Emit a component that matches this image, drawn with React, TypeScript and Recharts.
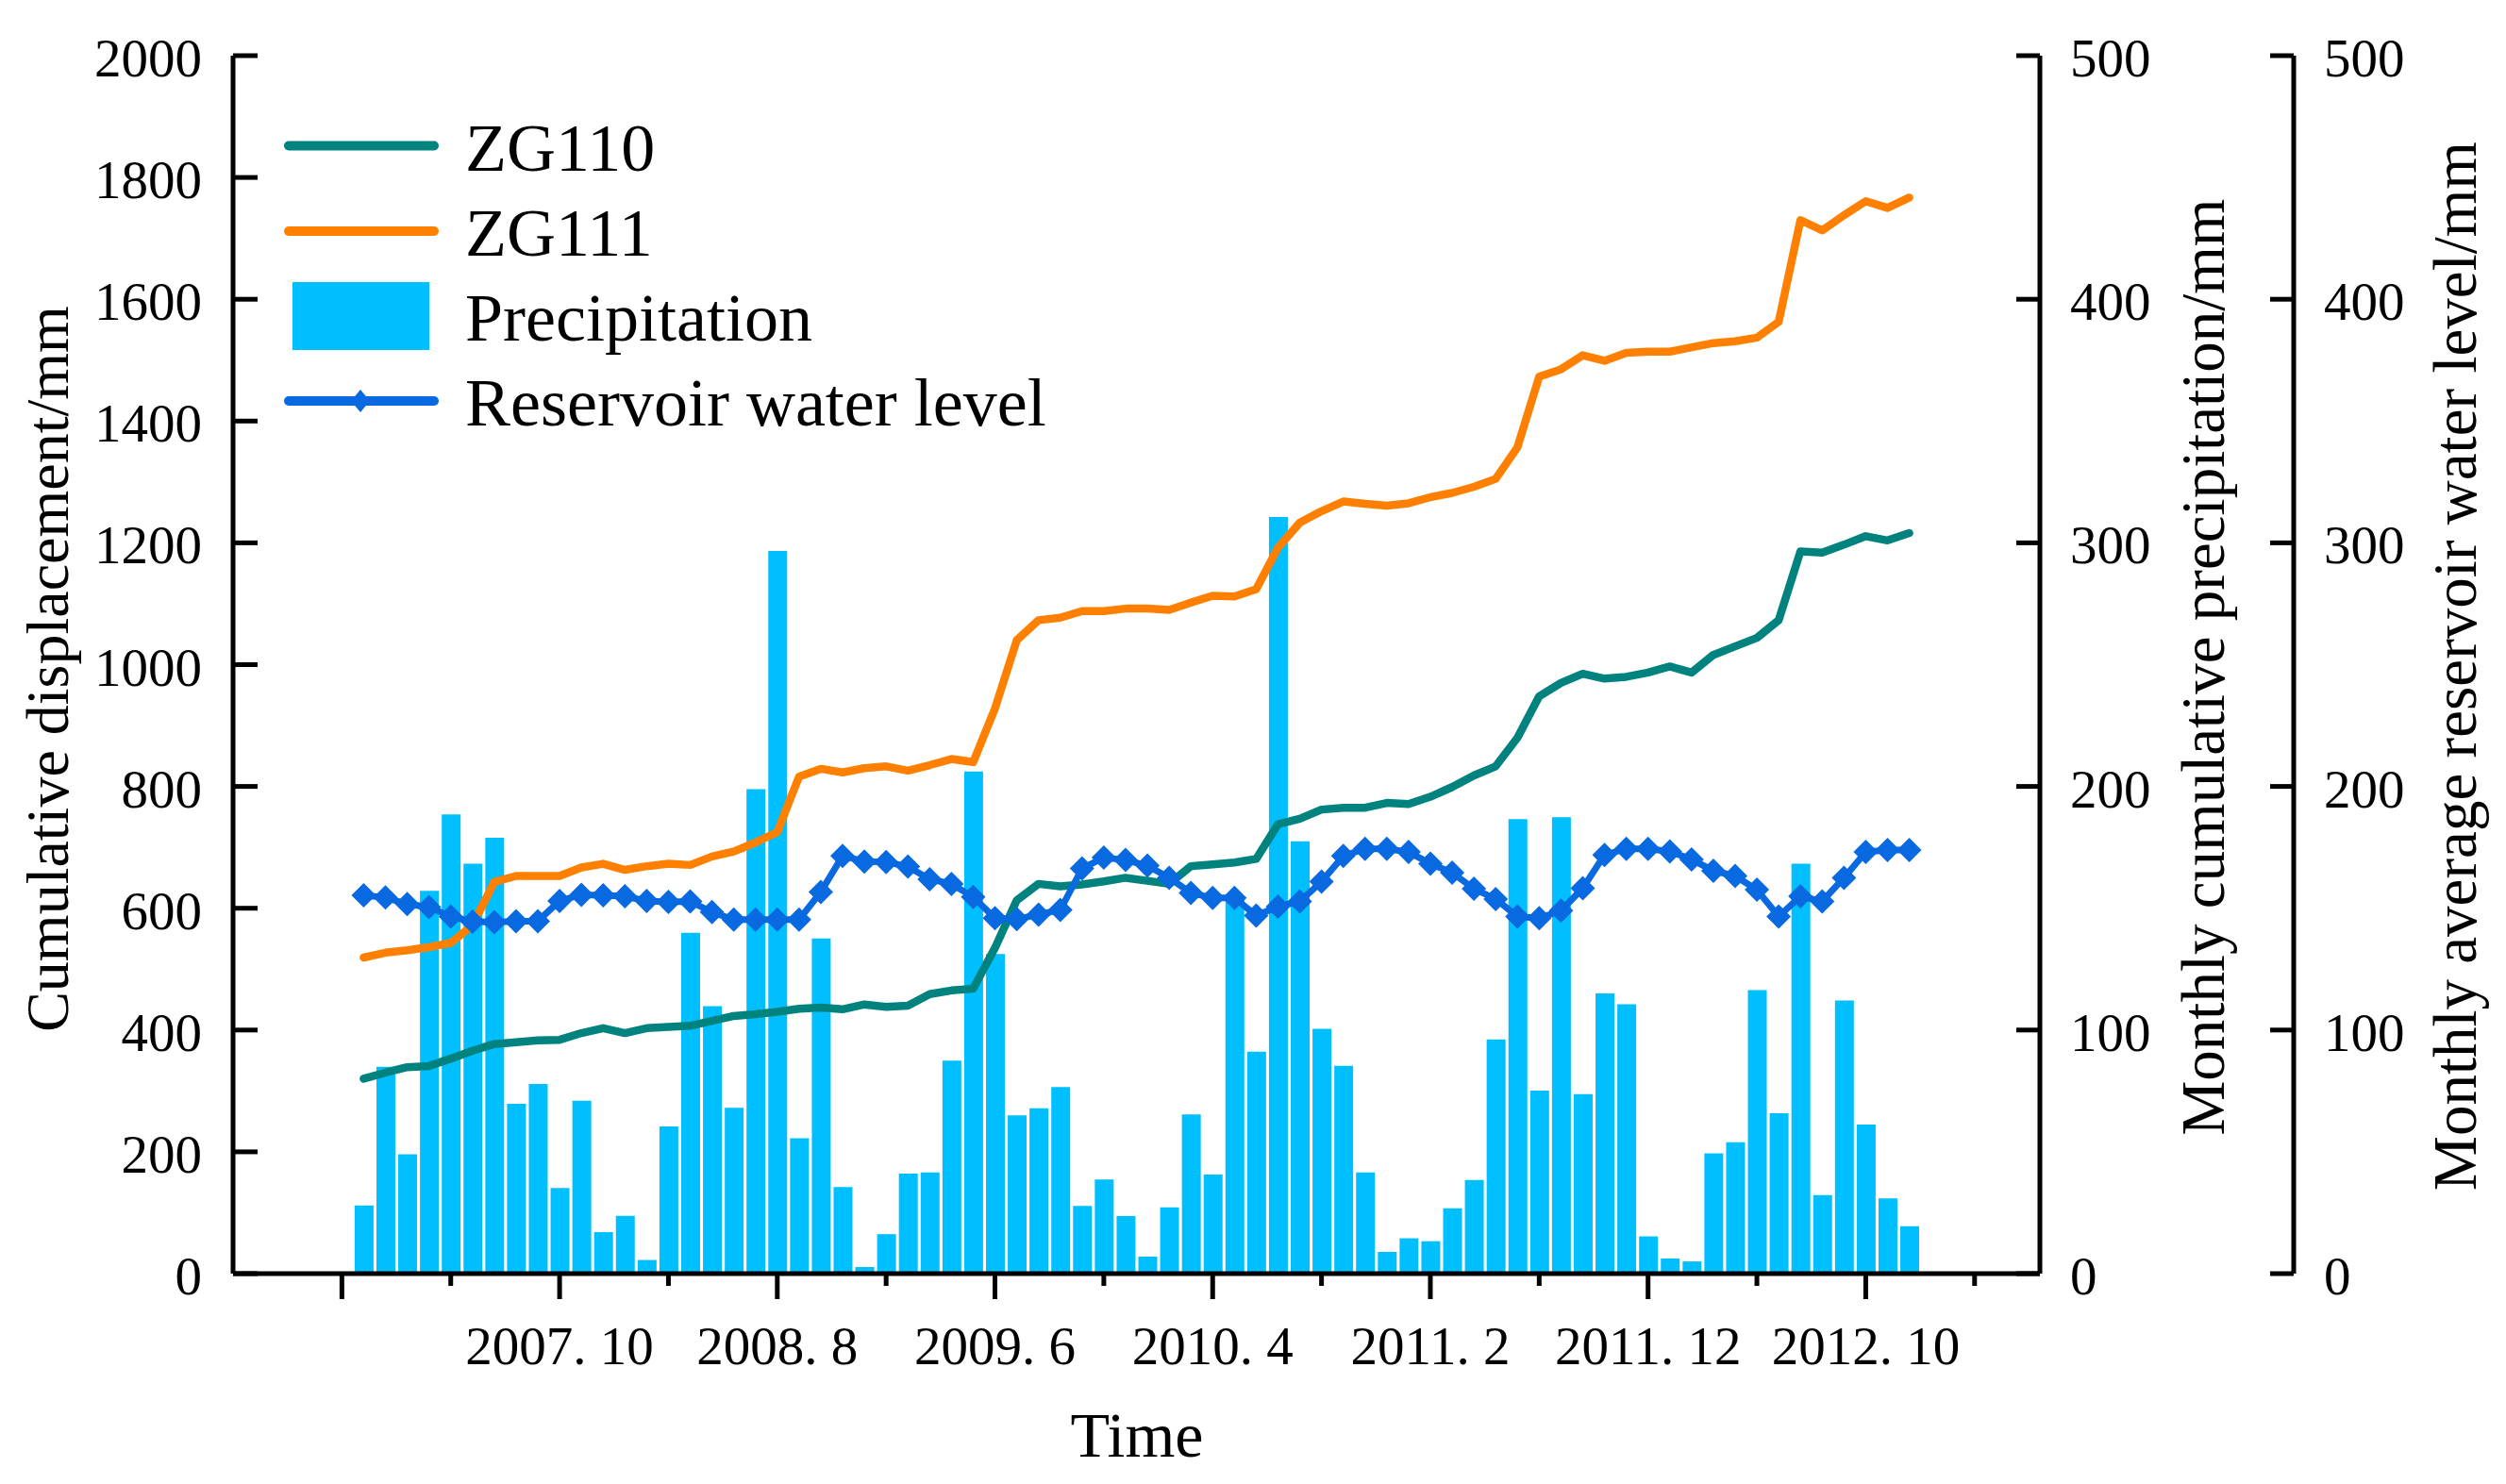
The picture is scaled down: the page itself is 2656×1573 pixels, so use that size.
import React from "react";
import { ComposedChart, Line, Bar, XAxis, YAxis } from "recharts";

const FONT = '"Liberation Serif", "Times New Roman", serif';

// months 2007.1 .. 2012.12
const months: string[] = [];
for (let y = 2007; y <= 2012; y++) for (let m = 1; m <= 12; m++) months.push(`${y}.${m}`);

const precipitation = [
  28.0, 84.9, 49.0, 157.1, 188.5, 168.3, 178.9, 69.7, 77.8, 35.1,
  71.0, 17.0, 23.7, 5.6, 60.4, 139.9, 109.8, 68.1, 198.9, 296.7,
  55.6, 137.6, 35.5, 2.7, 16.2, 41.1, 41.5, 87.4, 206.1, 131.2,
  65.0, 67.9, 76.6, 27.8, 38.6, 23.6, 7.0, 27.2, 65.4, 40.7,
  153.6, 91.1, 310.6, 177.5, 100.5, 85.3, 41.5, 8.9, 14.5, 13.3,
  26.8, 38.4, 96.1, 186.6, 75.1, 187.4, 73.7, 115.0, 110.6, 15.3,
  6.2, 5.0, 49.4, 53.9, 116.4, 65.8, 168.3, 32.2, 112.1, 61.2,
  30.9, 19.5,
];

const zg110 = [
  320, 330, 339, 341, 353, 366, 377, 380, 383, 384,
  395, 403, 395, 403, 405, 407, 415, 423, 426, 430,
  435, 437, 434, 442, 438, 440, 459, 465, 468, 535,
  613, 640, 636, 639, 644, 650, 645, 640, 669, 672,
  675, 681, 738, 747, 762, 765, 765, 773, 771, 783,
  799, 818, 833, 880, 948, 970, 985, 977, 980, 987,
  997, 987, 1016, 1030, 1044, 1073, 1186, 1184, 1197, 1211,
  1204, 1216,
];

const zg111 = [
  519, 527, 531, 536, 543, 572, 643, 653, 653, 653,
  667, 673, 663, 669, 673, 671, 685, 693, 708, 725,
  816, 829, 823, 830, 833, 826, 835, 845, 840, 928,
  1040, 1073, 1077, 1088, 1088, 1092, 1092, 1090, 1102, 1113,
  1112, 1124, 1192, 1233, 1252, 1268, 1264, 1261, 1265, 1275,
  1282, 1292, 1305, 1357, 1473, 1485, 1508, 1499, 1512, 1514,
  1514, 1521, 1528, 1531, 1537, 1563, 1730, 1713, 1738, 1761,
  1750, 1767,
];

const waterLevel = [
  155.3, 154.4, 151.7, 150.5, 146.6, 144.5, 144.3, 144.7, 144.7, 153.0,
  155.5, 155.3, 154.9, 153.0, 152.6, 152.8, 148.4, 145.3, 145.3, 145.3,
  145.3, 156.7, 171.5, 169.2, 169.0, 167.1, 161.9, 160.0, 154.6, 145.9,
  145.5, 147.4, 149.3, 166.3, 170.8, 169.8, 167.5, 162.5, 156.3, 154.2,
  154.2, 147.0, 150.7, 152.8, 160.9, 171.5, 174.4, 174.4, 173.1, 168.3,
  164.6, 158.0, 153.8, 146.6, 145.9, 149.0, 158.2, 171.9, 174.4, 174.4,
  173.3, 170.0, 165.4, 163.2, 157.6, 146.6, 154.9, 152.8, 162.5, 173.1,
  173.9, 173.9,
];

// month index ticks (0 = 2007.1)
const xTicks = [-1, 4, 9, 14, 19, 24, 29, 34, 39, 44, 49, 54, 59, 64, 69, 74];
const xTickLabels = [
  "", "", "2007. 10", "", "2008. 8", "", "2009. 6", "", "2010. 4", "",
  "2011. 2", "", "2011. 12", "", "2012. 10", "",
];
const leftTicks = [0, 200, 400, 600, 800, 1000, 1200, 1400, 1600, 1800, 2000];
const rightTicks = [0, 100, 200, 300, 400, 500];

const data = months.map((m, i) => ({
  x: i,
  month: m,
  zg110: zg110[i],
  zg111: zg111[i],
  precipitation: precipitation[i],
  water: waterLevel[i],
}));

const TEAL = "#00837F";
const ORANGE = "#FF8000";
const SKY = "#00BFFF";
const BLUE = "#0869E0";

const renderXTick = (props: any) => {
  const { x, y, payload } = props;
  const idx = xTicks.indexOf(payload.value);
  const label = xTickLabels[idx] || "";
  const long = idx % 2 === 0;
  return (
    <g>
      <line x1={x} x2={x} y1={y} y2={y + (long ? 27 : 13)} stroke="#000" strokeWidth={5} />
      {label && (
        <text x={x} y={y + 96} textAnchor="middle" fontSize={57} fontFamily={FONT} fill="#000">
          {label}
        </text>
      )}
    </g>
  );
};

const renderLeftTick = (props: any) => {
  const { x, y, payload } = props;
  return (
    <g>
      <line x1={x} x2={x + 26} y1={y} y2={y} stroke="#000" strokeWidth={5} />
      <text x={x - 33} y={y + 22} textAnchor="end" fontSize={57} fontFamily={FONT} fill="#000">
        {payload.value}
      </text>
    </g>
  );
};

const renderRightTick = (props: any) => {
  const { x, y, payload } = props;
  return (
    <g>
      <line x1={x - 25} x2={x} y1={y} y2={y} stroke="#000" strokeWidth={5} />
      <text x={x + 32} y={y + 22} textAnchor="start" fontSize={57} fontFamily={FONT} fill="#000">
        {payload.value}
      </text>
    </g>
  );
};

const renderDiamond = (props: any) => {
  const { cx, cy, index } = props;
  const r = 13;
  return (
    <path
      key={`d-${index}`}
      d={`M${cx},${cy - r} L${cx + r},${cy} L${cx},${cy + r} L${cx - r},${cy} Z`}
      fill={BLUE}
    />
  );
};

const axisLine = { stroke: "#000", strokeWidth: 5 };

export default function App() {
  return (
    <div style={{ position: "relative", width: 2640, height: 1565 }}>
      <ComposedChart
        width={2640}
        height={1565}
        data={data}
        margin={{ top: 51, right: 17, bottom: 0, left: 0 }}
      >
        <XAxis
          dataKey="x"
          type="number"
          domain={[-6, 77]}
          allowDataOverflow
          ticks={xTicks}
          interval={0}
          tickSize={0}
          tickMargin={0}
          tickLine={false}
          axisLine={axisLine}
          tick={renderXTick}
          height={223}
        />
        <YAxis
          yAxisId="left"
          orientation="left"
          domain={[0, 2000]}
          ticks={leftTicks}
          interval={0}
          width={239}
          tickSize={0}
          tickMargin={0}
          tickLine={false}
          axisLine={axisLine}
          tick={renderLeftTick}
        />
        <YAxis
          yAxisId="precip"
          orientation="right"
          domain={[0, 500]}
          ticks={rightTicks}
          interval={0}
          width={269}
          tickSize={0}
          tickMargin={0}
          tickLine={false}
          axisLine={axisLine}
          tick={renderRightTick}
        />
        <YAxis
          yAxisId="water"
          orientation="right"
          domain={[0, 500]}
          ticks={rightTicks}
          interval={0}
          width={200}
          tickSize={0}
          tickMargin={0}
          tickLine={false}
          axisLine={axisLine}
          tick={renderRightTick}
        />
        <Line
          yAxisId="left"
          dataKey="zg110"
          stroke={TEAL}
          strokeWidth={8.5}
          strokeLinecap="round"
          strokeLinejoin="round"
          dot={false}
          activeDot={false}
          isAnimationActive={false}
        />
        <Line
          yAxisId="left"
          dataKey="zg111"
          stroke={ORANGE}
          strokeWidth={8.5}
          strokeLinecap="round"
          strokeLinejoin="round"
          dot={false}
          activeDot={false}
          isAnimationActive={false}
        />
        <Bar
          yAxisId="precip"
          dataKey="precipitation"
          fill={SKY}
          barSize={20}
          isAnimationActive={false}
        />
        <Line
          yAxisId="water"
          dataKey="water"
          stroke={BLUE}
          strokeWidth={7}
          dot={renderDiamond}
          activeDot={false}
          isAnimationActive={false}
        />
      </ComposedChart>

      <svg
        width={2640}
        height={1565}
        style={{ position: "absolute", left: 0, top: 0, pointerEvents: "none" }}
        fontFamily={FONT}
      >
        {/* legend */}
        <line x1={298} x2={452} y1={146.5} y2={146.5} stroke={TEAL} strokeWidth={10} strokeLinecap="round" />
        <text x={485} y={173} fontSize={72}>ZG110</text>
        <line x1={298} x2={452} y1={237} y2={237} stroke={ORANGE} strokeWidth={10} strokeLinecap="round" />
        <text x={485} y={263} fontSize={72}>ZG111</text>
        <rect x={302} y={291} width={145} height={72} fill={SKY} />
        <text x={485} y={353} fontSize={72}>Precipitation</text>
        <line x1={298} x2={452} y1={417} y2={417} stroke={BLUE} strokeWidth={10} strokeLinecap="round" />
        <path d="M374,405 L384,417 L374,429 L364,417 Z" fill={BLUE} />
        <text x={485} y={443} fontSize={72}>Reservoir water level</text>

        {/* axis titles */}
        <text x={64} y={701} fontSize={64} textAnchor="middle" transform="rotate(-90, 64, 701)">
          Cumulative displacement/mm
        </text>
        <text x={2349} y={699} fontSize={65} textAnchor="middle" transform="rotate(-90, 2349, 699)">
          Monthly cumulative precipitation/mm
        </text>
        <text x={2616} y={698} fontSize={65} textAnchor="middle" transform="rotate(-90, 2616, 698)">
          Monthly average reservoir water level/mm
        </text>
        <text x={1197} y={1536} fontSize={68} textAnchor="middle">Time</text>
      </svg>
    </div>
  );
}
